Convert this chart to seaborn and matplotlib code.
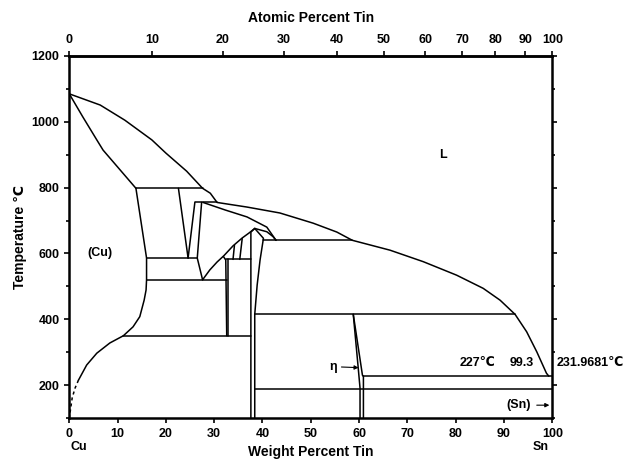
import numpy as np
import pandas as pd
import matplotlib
matplotlib.use('Agg')
from matplotlib import pyplot as plt
import seaborn as sns

# Cu-Sn phase diagram (wt% Sn, deg C)
liquidus_wt = [0, 6.4, 11.5, 17.1, 20.0, 24.3, 27.6, 29.2, 30.6, 36.8, 43.6, 50.5,
               55.4, 58.6, 66.4, 73.3, 80.2, 85.7, 89.2, 92.3, 94.7, 96.8, 98.8, 99.3]
liquidus_T = [1085, 1051, 1005, 945, 905, 850, 798, 783, 755, 741, 723, 692,
              665, 640, 610, 575, 534, 494, 458, 415, 362, 301, 236, 227]

alpha_solidus_wt = [0, 2.8, 5.7, 7.0, 13.8]
alpha_solidus_T = [1085, 1015, 945, 914, 798]

alpha_solvus_wt = [13.8, 16.0, 16.0, 15.9, 15.5, 14.6, 13.2, 11.2, 8.4, 5.7, 3.6, 1.9]
alpha_solvus_T = [798, 586, 520, 489, 458, 408, 377, 350, 328, 297, 261, 215]
alpha_dash_wt = [1.9, 1.2, 0.6, 0.05]
alpha_dash_T = [215, 191, 161, 105]

beta_left_wt, beta_left_T = [22.6, 24.6], [798, 586]
beta_right_wt, beta_right_T = [26.0, 24.6], [755, 586]
gamma_left_wt, gamma_left_T = [27.4, 26.5, 27.6], [755, 586, 520]
gamma_dome_wt = [27.6, 29.1, 30.6, 32.0, 33.9, 35.8, 37.2, 38.4, 40.9, 42.2, 42.8]
gamma_dome_T = [520, 550, 574, 593, 623, 647, 662, 676, 666, 651, 640]
gamma_solidus_wt = [27.7, 32.3, 36.8, 40.9, 42.8]
gamma_solidus_T = [755, 732, 711, 680, 640]
delta_left_wt, delta_left_T = [31.9, 32.4, 32.6], [591, 580, 350]
delta_right_wt, delta_right_T = [32.9, 32.9], [582, 350]
zeta_a_wt, zeta_a_T = [34.2, 33.9], [625, 582]
zeta_b_wt, zeta_b_T = [35.8, 35.3], [645, 582]
eps_left_wt, eps_left_T = [38.4, 37.6, 37.6], [676, 665, 100]
eps_right_wt = [38.4, 40.2, 39.5, 38.9, 38.4, 38.4]
eps_right_T = [676, 646, 580, 504, 415, 100]
eta_left_wt, eta_left_T = [58.8, 59.8, 60.2, 60.2], [415, 256, 191, 100]
eta_right_wt, eta_right_T = [58.8, 60.7, 60.9, 60.9], [415, 230, 227, 100]

# horizontal invariant lines
iso_T = [798, 755, 640, 586, 582, 520, 415, 350, 227, 188]
iso_from = [13.8, 26.0, 40.2, 16.0, 32.4, 16.0, 38.4, 11.2, 60.9, 38.4]
iso_to = [27.6, 30.6, 58.6, 26.5, 37.6, 32.6, 92.3, 37.6, 100, 100]

wt_ticks = list(range(0, 101, 10))
at_ticks = list(range(0, 101, 10))

curves = {
    'liquidus': (liquidus_wt, liquidus_T),
    'alpha_solidus': (alpha_solidus_wt, alpha_solidus_T),
    'alpha_solvus': (alpha_solvus_wt, alpha_solvus_T),
    'beta_left': (beta_left_wt, beta_left_T),
    'beta_right': (beta_right_wt, beta_right_T),
    'gamma_left': (gamma_left_wt, gamma_left_T),
    'gamma_dome': (gamma_dome_wt, gamma_dome_T),
    'gamma_solidus': (gamma_solidus_wt, gamma_solidus_T),
    'delta_left': (delta_left_wt, delta_left_T),
    'delta_right': (delta_right_wt, delta_right_T),
    'zeta_a': (zeta_a_wt, zeta_a_T),
    'zeta_b': (zeta_b_wt, zeta_b_T),
    'eps_left': (eps_left_wt, eps_left_T),
    'eps_right': (eps_right_wt, eps_right_T),
    'eta_left': (eta_left_wt, eta_left_T),
    'eta_right': (eta_right_wt, eta_right_T),
}
for i, t in enumerate(iso_T):
    curves['iso_%d' % t] = ([iso_from[i], iso_to[i]], [t, t])

rows = []
for name, (xs, ys) in curves.items():
    for k, (a, b) in enumerate(zip(xs, ys)):
        rows.append({'curve': name, 'order': k, 'wt': a, 'T': b})
lines = pd.DataFrame(rows)

sns.set_theme(style='ticks')
plt.rcParams['font.family'] = ['Liberation Sans', 'DejaVu Sans']
plt.rcParams['font.weight'] = 'bold'
plt.rcParams['text.color'] = 'black'
plt.rcParams['axes.labelcolor'] = 'black'
plt.rcParams['axes.edgecolor'] = 'black'
plt.rcParams['xtick.color'] = 'black'
plt.rcParams['ytick.color'] = 'black'

fig = plt.figure(figsize=(6.35, 4.59), dpi=100)
ax = fig.add_axes([0.1091, 0.0893, 0.7606, 0.7887])

sns.lineplot(data=lines, x='wt', y='T', units='curve', estimator=None, sort=False,
             color='black', linewidth=1.1, legend=False, ax=ax)
sns.lineplot(x=alpha_dash_wt, y=alpha_dash_T, estimator=None, sort=False,
             color='black', linewidth=1.1, linestyle=(0, (2, 2)), ax=ax)

ax.set_xlim(0, 100)
ax.set_ylim(100, 1200)
ax.set_xticks(wt_ticks)
ax.set_yticks(range(200, 1201, 200))
ax.set_yticks(range(100, 1201, 100), minor=True)
for s in ax.spines.values():
    s.set_linewidth(1.8)
    s.set_visible(True)
ax.tick_params(axis='both', which='major', direction='out', length=3.5, width=1.2,
               labelsize=9, colors='black')
ax.tick_params(axis='y', which='minor', direction='out', length=2.2, width=1.2)
ax.tick_params(axis='y', which='both', right=True)
for lab in ax.get_xticklabels() + ax.get_yticklabels():
    lab.set_fontweight('bold')

ax.set_xlabel('Weight Percent Tin', fontsize=10, fontweight='bold', labelpad=4)
ax.set_ylabel('Temperature ℃', fontsize=10, fontweight='bold', labelpad=3)

Cu, Sn = 63.546, 118.71


def wt2at(w):
    w = np.asarray(w, dtype=float)
    return 100 * (w / Sn) / (w / Sn + (100 - w) / Cu)


def at2wt(a):
    a = np.asarray(a, dtype=float)
    return 100 * a * Sn / (a * Sn + (100 - a) * Cu)


sec = ax.secondary_xaxis('top', functions=(wt2at, at2wt))
sec.set_xticks(at_ticks)
sec.tick_params(direction='out', length=3.5, width=1.2, labelsize=9, colors='black')
sec.spines['top'].set_linewidth(1.8)
for lab in sec.get_xticklabels():
    lab.set_fontweight('bold')
sec.set_xlabel('Atomic Percent Tin', fontsize=10, fontweight='bold', labelpad=9)

# phase labels
ax.text(77.4, 899, 'L', fontsize=9, fontweight='bold', ha='center', va='center')
ax.text(6.4, 601, '(Cu)', fontsize=9, fontweight='bold', ha='center', va='center')
ax.text(80.9, 266, '227℃', fontsize=9, fontweight='bold', ha='left', va='center')
ax.text(91.2, 266, '99.3', fontsize=9, fontweight='bold', ha='left', va='center')
ax.text(101.0, 266, '231.9681℃', fontsize=9, fontweight='bold', ha='left',
        va='center', clip_on=False)
ax.annotate('η', xy=(59.9, 253), xytext=(54.6, 256), fontsize=9, fontweight='bold',
            ha='center', va='center',
            arrowprops=dict(arrowstyle='-|>', color='black', lw=0.8,
                            mutation_scale=6, shrinkA=1, shrinkB=0))
ax.annotate('(Sn)', xy=(99.4, 139), xytext=(93.0, 139), fontsize=9, fontweight='bold',
            ha='center', va='center',
            arrowprops=dict(arrowstyle='-|>', color='black', lw=0.8,
                            mutation_scale=6, shrinkA=2, shrinkB=0))
ax.annotate('Cu', xy=(0, 100), xytext=(1, -21), textcoords='offset points',
            fontsize=9, fontweight='bold', ha='left', va='center')
ax.annotate('Sn', xy=(97.5, 100), xytext=(0, -21), textcoords='offset points',
            fontsize=9, fontweight='bold', ha='center', va='center')

plt.savefig('out.png', dpi=100)
